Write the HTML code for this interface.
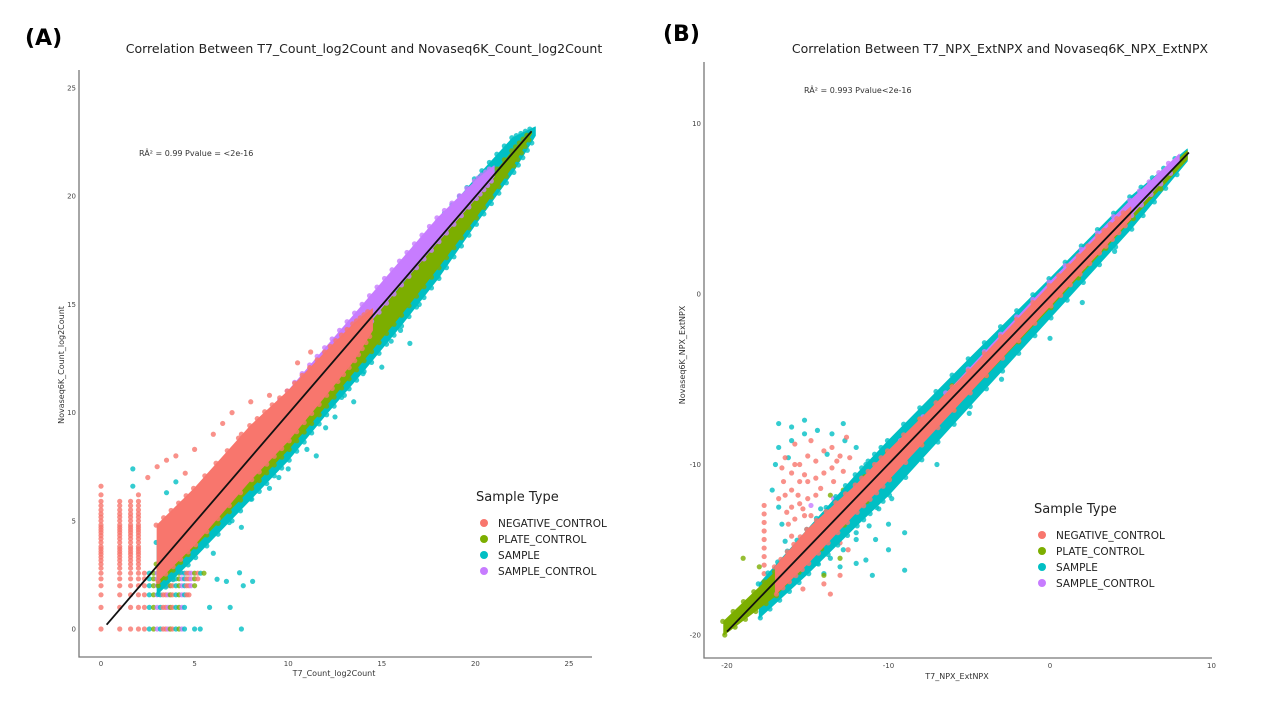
<!DOCTYPE html>
<html><head><meta charset="utf-8"><style>
body{margin:0;background:#fff;width:1280px;height:720px;overflow:hidden;font-family:"Liberation Sans","DejaVu Sans",sans-serif}
svg text{font-family:"DejaVu Sans","Liberation Sans",sans-serif}
</style></head><body>
<svg id="s" width="1280" height="720" xmlns="http://www.w3.org/2000/svg">
<text x="25" y="45" font-size="22" font-weight="bold" font-family="Liberation Sans">(A)</text>
<text x="663" y="41" font-size="22" font-weight="bold" font-family="Liberation Sans">(B)</text>
<text x="364" y="53" font-size="12.5" text-anchor="middle" fill="#222">Correlation Between T7_Count_log2Count and Novaseq6K_Count_log2Count</text>
<text x="1000" y="53" font-size="12.5" text-anchor="middle" fill="#222">Correlation Between T7_NPX_ExtNPX and Novaseq6K_NPX_ExtNPX</text>
<text x="139" y="156" font-size="8" fill="#333">RÂ² = 0.99 Pvalue = &lt;2e-16</text>
<text x="804" y="93" font-size="8" fill="#333">RÂ² = 0.993 Pvalue&lt;2e-16</text>
<text x="334" y="676" font-size="8" text-anchor="middle" fill="#333">T7_Count_log2Count</text>
<text x="957" y="679" font-size="8" text-anchor="middle" fill="#333">T7_NPX_ExtNPX</text>
<text transform="translate(64,365) rotate(-90)" font-size="8" text-anchor="middle" fill="#333">Novaseq6K_Count_log2Count</text>
<text transform="translate(685,355) rotate(-90)" font-size="8" text-anchor="middle" fill="#333">Novaseq6K_NPX_ExtNPX</text>
<g id="ga"></g>
<g id="gb"></g>
</svg>
<script>
const NS="http://www.w3.org/2000/svg";
const COL={N:"#F8766D",P:"#7CAE00",S:"#00BFC4",C:"#C77CFF"};
const legendLabels=["NEGATIVE_CONTROL","PLATE_CONTROL","SAMPLE","SAMPLE_CONTROL"];
const legendKeys=["N","P","S","C"];
// Panel A data
const aTicks=[0,5,10,15,20,25];
const aBandS_x=[3,5,8,10,12,14,16,18,20,22,23.2];
const aBandS_lo=[1.6,3.3,6,7.8,9.9,11.9,14,16.2,18.7,21.1,22.8];
const aBandS_hi=[4,5.9,8.8,10.6,12.6,14.6,16.8,18.8,20.8,22.7,23.2];
const aBandP_x=[3,5,8,10,12,14,16,18,20,22,23];
const aBandP_lo=[2,3.8,6.5,8.3,10.3,12.4,14.5,16.7,19,21.4,22.9];
const aBandP_hi=[3,5,7.8,9.8,11.8,13.8,15.8,17.9,20,22.1,23];
const aBandC_x=[4,8,10,12,14,16,18,20,21];
const aBandC_lo=[3.6,7.6,9.6,11.7,13.8,15.9,17.9,19.9,20.9];
const aBandC_hi=[4.8,8.9,11,13,15,17,19,20.7,21.4];
const aBandN_x=[3,5,8,10,12,13.5,14.5];
const aBandN_lo=[2.2,3.9,6.9,8.7,10.8,12.4,13.8];
const aBandN_hi=[4.8,6.5,9.4,11,12.8,14.1,14.8];
const aLevels=[0,1,1.58,2,2.32,2.58,2.81,3,3.17,3.32,3.46,3.58,3.7,3.81,4,4.17,4.32,4.46,4.58,4.7,4.81,5,5.17,5.32,5.5,5.7,5.9,6.2,6.6];
const aColX=[0,1,1.58,2];
const aColMax=[6.6,6,5.9,6.2];
const aRowY=[0,1,1.58,2,2.32,2.58];
const aRowMax=[4.5,4.5,4.8,5,5.2,5.5];
const aOutS=[[5.5,4],[6,3.5],[7,5],[7.5,4.7],[8,6],[9,6.5],[10,7.4],[11,8.3],[12,9.3],[13,10.8],[14,11.8],[15,12.1],[16,13.8],[17,15],[18,16.3],[19,17.8],[7.6,2],[8.1,2.2],[6.9,1],[5.8,1],[7.5,0],[5,0],[5.3,0],[1.7,7.4],[1.7,6.6],[7.4,2.6],[6.2,2.3],[6.7,2.2],[11.5,8],[16.5,13.2],[4,6.8],[3.5,6.3],[9.5,7],[13.5,10.5],[12.5,9.8],[14.5,12.6],[15.5,13.3],[17.5,16],[18.5,17.2]];
const aOutN=[[7,10],[8,10.5],[6,9],[5,8.3],[4,8],[3,7.5],[9,10.8],[3.5,7.8],[6.5,9.5],[2.5,7],[4.5,7.2],[7.5,9],[10.5,12.3],[11.2,12.8]];
// Panel B data
const bTicks=[-20,-10,0,10];
const bCloudN=[[-16,-10.5],[-15.5,-10],[-15,-9.5],[-14.5,-9.8],[-14,-9.2],[-13.5,-9],[-13,-9.5],[-16,-11.5],[-15.5,-11],[-15,-11],[-14.5,-10.8],[-14,-10.5],[-13.5,-10.2],[-16,-12.5],[-15.5,-12.3],[-15,-12],[-14.5,-11.8],[-16.2,-13.5],[-15.8,-13.2],[-15.2,-13],[-14.5,-13.5],[-13.8,-14.2],[-13,-14.6],[-12.5,-15],[-16,-14.2],[-15.4,-14.6],[-14.6,-15],[-16.4,-9.6],[-15.8,-8.8],[-14.8,-8.6],[-12.6,-8.4],[-16.5,-11],[-16.8,-12],[-13,-16.5],[-14,-17],[-15.8,-10],[-15.2,-10.6],[-14.2,-11.4],[-13.4,-11],[-12.8,-10.4],[-15.6,-11.8],[-16.3,-12.8],[-16.6,-10.2],[-15.3,-12.6],[-14.8,-13],[-16.4,-11.8],[-13.2,-9.8],[-12.4,-9.6]];
const bCloudS=[[-16.8,-9],[-16,-8.6],[-15.2,-8.2],[-14.4,-8],[-13.5,-8.2],[-12.7,-8.6],[-12,-9],[-17,-10],[-17.2,-11.5],[-16.8,-12.5],[-16.6,-13.5],[-16.4,-14.5],[-16,-15.2],[-15.2,-15.6],[-14.4,-15.8],[-13.6,-15.5],[-12.8,-15],[-12,-14.4],[-11.2,-13.6],[-10.6,-12.6],[-10.4,-11.6],[-10.6,-10.6],[-11.4,-15.6],[-13,-16],[-14,-16.4],[-15.6,-16.1],[-14.2,-12.6],[-13.2,-12.8],[-12.4,-13.2],[-11.6,-12.6],[-14.8,-14.2],[-16.8,-7.6],[-15.2,-7.4],[-12.8,-7.6],[-10,-13.5],[-9.8,-12],[-11,-16.5],[-9,-16.2],[-12,-15.8],[-9,-14],[-7,-10],[-5,-7],[-3,-5],[0,-2.6],[2,-0.5],[4,2.5],[-10,-15],[-16,-7.8],[-11.8,-11.6],[-12.5,-12],[-13.8,-9.4],[-11.4,-10],[-12,-14],[-13.4,-14.6],[-14.2,-15],[-10.8,-14.4],[-16.2,-9.6]];
const bCloudP=[[-15,-14],[-14,-13],[-13.6,-11.8],[-12.8,-11.5],[-12.4,-12.3],[-14,-15],[-15.6,-15.4],[-19,-15.5],[-18,-16],[-16.5,-16.5],[-13,-15.5],[-14,-16.5]];
const bCloudC=[[-14.8,-12.4],[-13.4,-12],[-12.2,-11.2],[-15.2,-14.4]];
const bColN=[[-17.7,-12.4],[-17.7,-12.9],[-17.7,-13.4],[-17.7,-13.9],[-17.7,-14.4],[-17.7,-14.9],[-17.7,-15.4],[-17.7,-15.9],[-17.7,-16.4],[-17.7,-16.9],[-15.3,-17.3],[-13.6,-17.6]];
const bBandS_x=[-18,-15,-12,-10,-5,0,5,8.5];
const bBandS_lo=[-19,-16.4,-13.6,-11.8,-6.6,-1.4,3.8,7.8];
const bBandS_hi=[-17,-13.8,-10.6,-8.6,-3.8,0.9,5.7,8.5];
const bBandP_x=[-20.2,-17,-10,0,8.5];
const bBandP_lo=[-20,-17.7,-10.8,-0.8,7.9];
const bBandP_hi=[-19.2,-16.3,-9.3,0.5,8.4];
const bBandC_x=[-12,-5,0,5,8];
const bBandC_lo=[-12.2,-5.3,-0.4,4.6,7.7];
const bBandC_hi=[-11.4,-4.4,0.7,5.5,8.2];
const bBandN_x=[-17,-15,-12,-10,-5,0,3,5];
const bBandN_lo=[-17.6,-15.8,-12.8,-10.9,-5.8,-0.7,2.4,4.4];
const bBandN_hi=[-16,-13.8,-11.2,-9.2,-4.5,0.5,3.4,5.1];

function el(t,a,p){const e=document.createElementNS(NS,t);for(const k in a)e.setAttribute(k,a[k]);p.appendChild(e);return e;}
function dot(g,x,y,c,r){const e=el("circle",{cx:x,cy:y,r:r||2.6,fill:c,"fill-opacity":0.8},g);

}
function band(g,X,lo,hi,c,sx,sy){let p=X.map((x,i)=>sx(x)+","+sy(hi[i]));p=p.concat(X.map((x,i)=>sx(x)+","+sy(lo[i])).reverse());
const e=el("polygon",{points:p.join(" "),fill:c,stroke:c,"stroke-width":1,"stroke-linejoin":"round"},g);


X.forEach((x,i)=>{if(i<X.length-1){for(let k=0;k<5;k++){const t=k/5;const xx=x+(X[i+1]-x)*t;dot(g,sx(xx)-1,sy(hi[i]+(hi[i+1]-hi[i])*t),c);dot(g,sx(xx)+1,sy(lo[i]+(lo[i+1]-lo[i])*t),c);}}});}
function axes(g,x0,x1,y0,y1,xt,yt,sx,sy,ya,xa){
const a=el("path",{d:`M${x0},${y0} L${x0},${y1} L${x1},${y1}`,fill:"none",stroke:"#777","stroke-width":1.3},g);


xt.forEach(v=>{const t=el("text",{x:sx(v),y:xa,"font-size":7,"text-anchor":"middle",fill:"#444"},g);t.textContent=v;

});
yt.forEach(v=>{const t=el("text",{x:ya,y:sy(v)+2.5,"font-size":7,"text-anchor":"end",fill:"#444"},g);t.textContent=v;

});}
function legend(g,x,y){const t=el("text",{x:x,y:y,"font-size":13,fill:"#222"},g);t.textContent="Sample Type";


legendKeys.forEach((k,i)=>{const c=el("circle",{cx:x+8,cy:y+22+i*16,r:4,fill:COL[k]},g);


const l=el("text",{x:x+22,y:y+26+i*16,"font-size":10.5,fill:"#222"},g);l.textContent=legendLabels[i];

});}

// Panel A
const ga=document.getElementById("ga");
const ax=x=>101+x*18.72, ay=y=>629-y*21.64;
axes(ga,79,592,70,657,aTicks,aTicks,ax,ay,76,666);
aColX.forEach((cx,i)=>aLevels.forEach(l=>{if(l<=aColMax[i])dot(ga,ax(cx),ay(l),COL.N);}));
const rowCols=[COL.N,COL.N,COL.C,COL.P,COL.N,COL.S,COL.P,COL.C,COL.S];
aRowY.forEach((ry,i)=>aLevels.forEach((l,j)=>{if(l>2&&l<=aRowMax[i])dot(ga,ax(l),ay(ry),rowCols[j%rowCols.length]);}));
aOutS.forEach(p=>dot(ga,ax(p[0]),ay(p[1]),COL.S));
aOutN.forEach(p=>dot(ga,ax(p[0]),ay(p[1]),COL.N));
band(ga,aBandS_x,aBandS_lo,aBandS_hi,COL.S,ax,ay);
band(ga,aBandP_x,aBandP_lo,aBandP_hi,COL.P,ax,ay);
band(ga,aBandC_x,aBandC_lo,aBandC_hi,COL.C,ax,ay);
band(ga,aBandN_x,aBandN_lo,aBandN_hi,COL.N,ax,ay);
let f=el("line",{x1:ax(0.3),y1:ay(0.2),x2:ax(23),y2:ay(23),stroke:"#111","stroke-width":1.8},ga);


legend(ga,476,501);

// Panel B
const gb=document.getElementById("gb");
const bx=x=>1050+x*16.15, by=y=>294-y*17.05;
axes(gb,704,1212,62,658,bTicks,bTicks,bx,by,701,668);
bCloudS.forEach(p=>dot(gb,bx(p[0]),by(p[1]),COL.S));
bCloudN.forEach(p=>dot(gb,bx(p[0]),by(p[1]),COL.N));
bCloudP.forEach(p=>dot(gb,bx(p[0]),by(p[1]),COL.P));
bCloudC.forEach(p=>dot(gb,bx(p[0]),by(p[1]),COL.C));
bColN.forEach(p=>dot(gb,bx(p[0]),by(p[1]),COL.N));
band(gb,bBandS_x,bBandS_lo,bBandS_hi,COL.S,bx,by);
band(gb,bBandP_x,bBandP_lo,bBandP_hi,COL.P,bx,by);
band(gb,bBandC_x,bBandC_lo,bBandC_hi,COL.C,bx,by);
band(gb,bBandN_x,bBandN_lo,bBandN_hi,COL.N,bx,by);
f=el("line",{x1:bx(-20),y1:by(-19.8),x2:bx(8.6),y2:by(8.3),stroke:"#111","stroke-width":1.8},gb);


legend(gb,1034,513);
</script>
</body></html>
